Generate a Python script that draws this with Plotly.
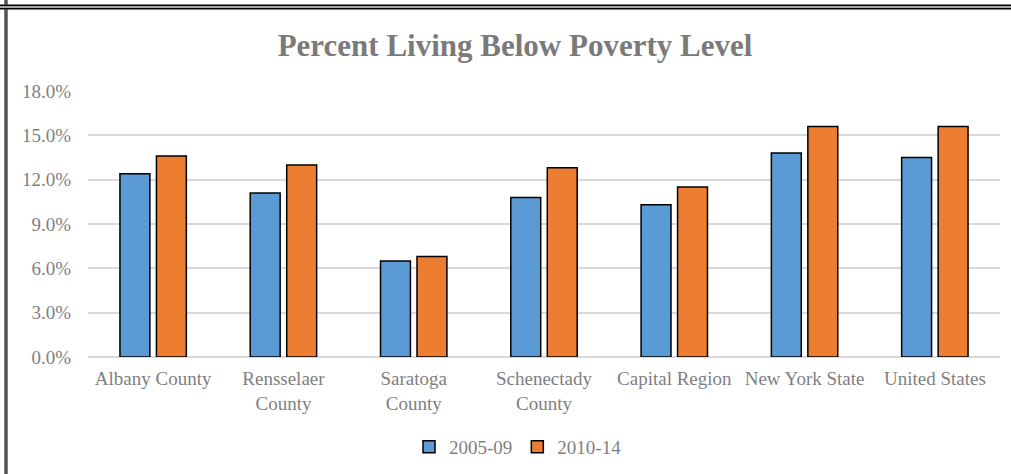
import plotly.graph_objects as go

categories = ["Albany County", "Rensselaer<br>County", "Saratoga<br>County",
              "Schenectady<br>County", "Capital Region", "New York State", "United States"]
series_names = ["2005-09", "2010-14"]
values_2005_09 = [0.124, 0.111, 0.065, 0.108, 0.103, 0.138, 0.135]
values_2010_14 = [0.136, 0.130, 0.068, 0.128, 0.115, 0.156, 0.156]
colors = ["#5B9BD5", "#ED7D31"]

W, H = 1011, 474
ML, MR, MT, MB = 88, 11, 91, 117
PW, PH = W - ML - MR, H - MT - MB

FONT = "Liberation Serif"
GRAY = "#7F7F7F"

fig = go.Figure()
for name, vals, col in zip(series_names, [values_2005_09, values_2010_14], colors):
    fig.add_trace(go.Bar(
        x=categories, y=vals, name=name,
        marker=dict(color=col, line=dict(color="#000000", width=1.5)),
    ))

def px_x(p):
    return (p - ML) / PW

def px_y(p):
    return (H - MB - p) / PH

shapes = []
# top double border line
for yy, col, w in [(7, "#000000", 5), (7, "#A6A6A6", 2)]:
    shapes.append(dict(type="line", xref="paper", yref="paper",
                       x0=px_x(0), x1=px_x(W), y0=px_y(yy), y1=px_y(yy),
                       line=dict(color=col, width=w), layer="above"))
# left border segments
for (y0, y1) in [(0, 5), (9, H)]:
    for col, w in [("#000000", 3), ("#A6A6A6", 1)]:
        shapes.append(dict(type="line", xref="paper", yref="paper",
                           x0=px_x(6), x1=px_x(6), y0=px_y(y0), y1=px_y(y1),
                           line=dict(color=col, width=w), layer="above"))

fig.update_layout(
    width=W, height=H,
    margin=dict(l=ML, r=MR, t=MT, b=MB, pad=0, autoexpand=False),
    paper_bgcolor="white", plot_bgcolor="white",
    title=dict(text="<b>Percent Living Below Poverty Level</b>",
               x=px_x(515), xanchor="center", xref="paper", y=1 - 45 / H, yanchor="middle",
               font=dict(family=FONT, size=31, color="#7A7A7A")),
    barmode="group", bargap=0.44, bargroupgap=0.18,
    font=dict(family=FONT, size=19, color=GRAY),
    showlegend=True,
    legend=dict(orientation="h", x=px_x(518), xanchor="center",
                y=px_y(447), yanchor="middle",
                font=dict(family=FONT, size=19, color=GRAY),
                itemwidth=30, tracegroupgap=0),
    xaxis=dict(showgrid=False, showline=False, ticks="", ticklabelstandoff=8,
               tickfont=dict(family=FONT, size=19, color=GRAY)),
    yaxis=dict(range=[0, 0.18], dtick=0.03, tick0=0, tickformat=".1%",
               showgrid=True, gridcolor="#D9D9D9", gridwidth=1.5,
               zeroline=True, zerolinecolor="#D9D9D9", zerolinewidth=1.5,
               showline=False, ticks="", ticklabelstandoff=16,
               tickfont=dict(family=FONT, size=19, color=GRAY)),
    shapes=shapes,
)

fig.write_html("out.html", config={"displayModeBar": False},
               post_script="document.body.style.margin='0';document.body.style.overflow='hidden';")
